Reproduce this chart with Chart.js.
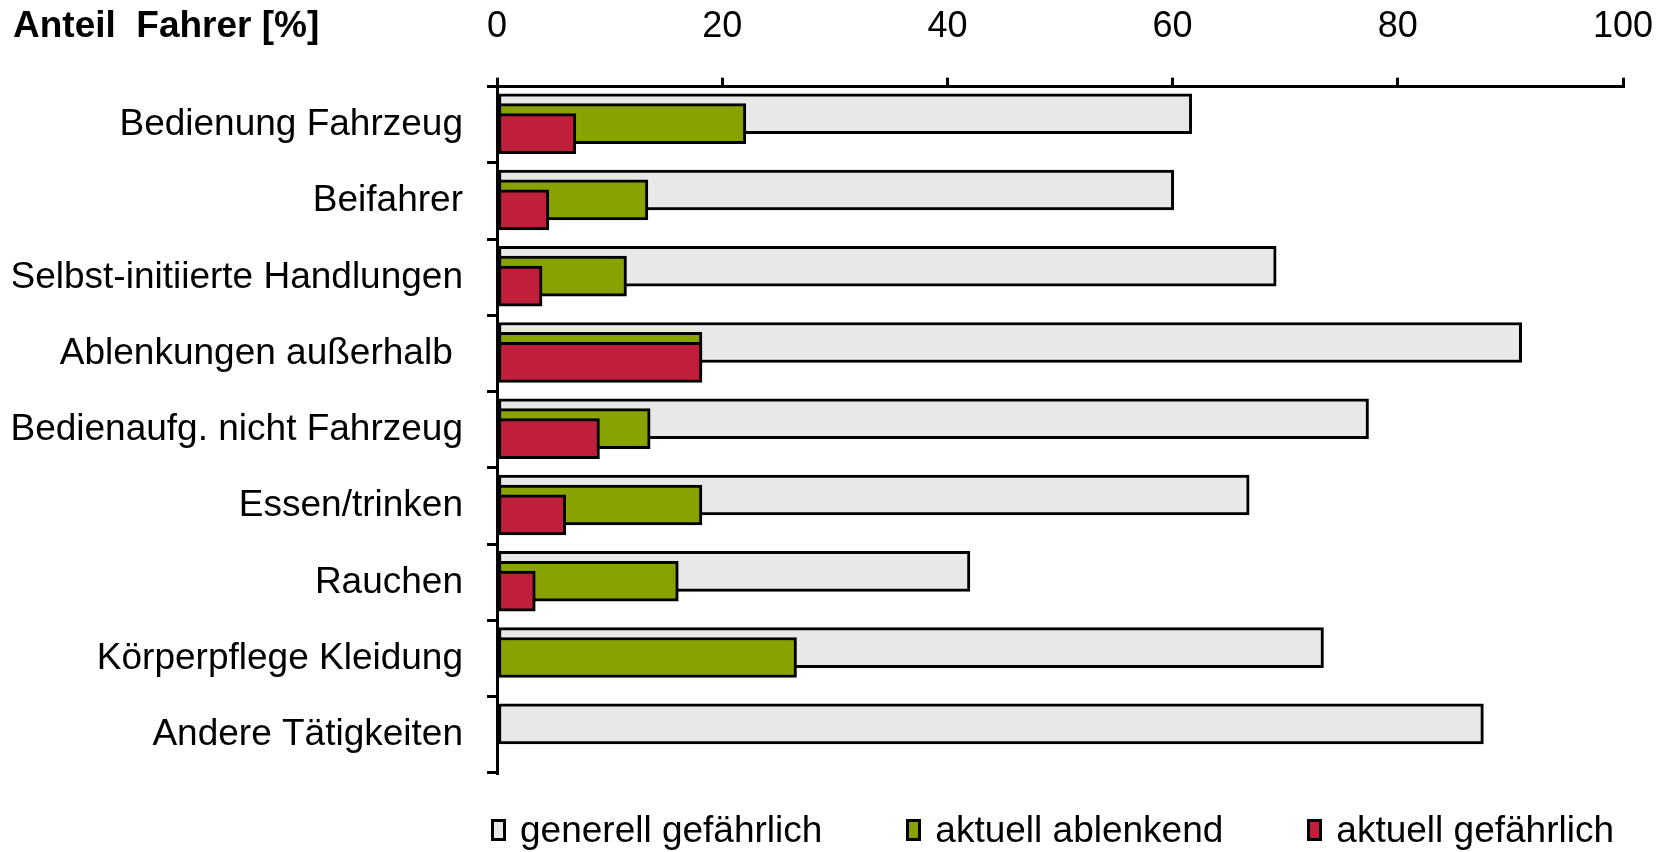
<!DOCTYPE html>
<html lang="de">
<head>
<meta charset="utf-8">
<title>Ablenkung beim Fahren</title>
<script src="https://cdn.jsdelivr.net/npm/chart.js@4.4.1/dist/chart.umd.min.js"></script>
<style>
  html, body { margin: 0; background: #fff; }
  #wrap { position: relative; width: 1669px; height: 852px; overflow: hidden; }
  #legend {
    position: absolute; left: 491px; top: 811px;
    display: flex; gap: 84px;
    font: 37px "Liberation Sans", Arial, sans-serif; line-height: 37px; color: #000;
  }
  #legend .item { display: flex; align-items: center; white-space: pre; }
  #legend .box { width: 9px; height: 16px; border: 3px solid #000; margin-right: 14px; }
</style>
</head>
<body>
<div id="wrap">
  <canvas id="chart" width="1669" height="852"></canvas>
  <div id="legend"></div>
</div>
<script>
const categories = [
  "Bedienung Fahrzeug",
  "Beifahrer",
  "Selbst-initiierte Handlungen",
  "Ablenkungen außerhalb ",
  "Bedienaufg. nicht Fahrzeug",
  "Essen/trinken",
  "Rauchen",
  "Körperpflege Kleidung",
  "Andere Tätigkeiten"
];
const generellGefaehrlich = [61.7, 60.1, 69.2, 91.0, 77.4, 66.8, 42.0, 73.4, 87.6];
const aktuellAblenkend = [22.1, 13.4, 11.5, 18.2, 13.6, 18.2, 16.1, 26.6, null];
const aktuellGefaehrlich = [7.0, 4.6, 4.0, 18.2, 9.1, 6.1, 3.4, null, null];
const xTicks = [0, 20, 40, 60, 80, 100];

// the three bars of a category overlap, each one nudged down a bit
function rows(values, shift) {
  return values
    .map((v, i) => ({ x: v, y: i + shift }))
    .filter(p => p.x !== null);
}

// legend as html so the items can be spaced like the original
const htmlLegend = {
  id: "htmlLegend",
  afterUpdate(chart) {
    const list = document.getElementById("legend");
    list.innerHTML = "";
    const items = chart.options.plugins.legend.labels.generateLabels(chart)
      .sort((a, b) => a.datasetIndex - b.datasetIndex);
    items.forEach(item => {
      const li = document.createElement("div");
      li.className = "item";
      const box = document.createElement("span");
      box.className = "box";
      box.style.background = item.fillStyle;
      const txt = document.createElement("span");
      txt.textContent = item.text;
      li.append(box, txt);
      list.appendChild(li);
    });
  }
};

Chart.defaults.font.family = '"Liberation Sans", Arial, sans-serif';
Chart.defaults.font.size = 36;
Chart.defaults.color = "#000";

const ctx = document.getElementById("chart");
const myChart = new Chart(ctx, {
  type: "bar",
  data: {
    datasets: [
      { label: "generell gefährlich", data: rows(generellGefaehrlich, -0.145), backgroundColor: "#E8E8E8", order: 3 },
      { label: "aktuell ablenkend", data: rows(aktuellAblenkend, -0.015), backgroundColor: "#88A300", order: 2 },
      { label: "aktuell gefährlich", data: rows(aktuellGefaehrlich, 0.115), backgroundColor: "#C01F3C", order: 1 }
    ]
  },
  options: {
    indexAxis: "y",
    responsive: false,
    animation: false,
    devicePixelRatio: 1,
    // top is negative: the title sits beside the x tick labels, not above them
    layout: { padding: { left: 13, right: 46, top: -23.7, bottom: 79 } },
    datasets: {
      bar: {
        grouped: false,
        barThickness: 40,
        borderWidth: 3,
        borderColor: "#000",
        borderSkipped: false
      }
    },
    scales: {
      x: {
        type: "linear",
        position: "top",
        min: 0,
        max: 100,
        afterBuildTicks: (scale) => { scale.ticks = xTicks.map(v => ({ value: v })); },
        ticks: { padding: 13, color: "#000", font: { size: 36, lineHeight: 2.094 } },
        grid: { drawOnChartArea: false, drawTicks: true, tickLength: 9, color: "#000", lineWidth: 3 },
        border: { display: true, color: "#000", width: 3 }
      },
      y: {
        type: "linear",
        reverse: true,
        offset: false,
        min: -0.5,
        max: 8.5,
        afterBuildTicks: (scale) => { scale.ticks = categories.map((c, i) => ({ value: i })); },
        afterFit: (scale) => { scale.width = 484; },
        ticks: {
          autoSkip: false,
          padding: 24,
          color: "#000",
          font: { size: 37 },
          callback: (v) => categories[v]
        },
        grid: { offset: true, drawOnChartArea: false, drawTicks: true, tickLength: 10, color: "#000", lineWidth: 3 },
        border: { display: true, color: "#000", width: 3 }
      }
    },
    plugins: {
      legend: { display: false },
      tooltip: { enabled: false },
      title: {
        display: true,
        text: "Anteil  Fahrer [%]",
        align: "start",
        color: "#000",
        font: { size: 37, weight: "bold", lineHeight: 1.2 },
        padding: { top: 28.1, bottom: -72.5 }
      }
    }
  },
  plugins: [htmlLegend]
});
</script>
</body>
</html>
